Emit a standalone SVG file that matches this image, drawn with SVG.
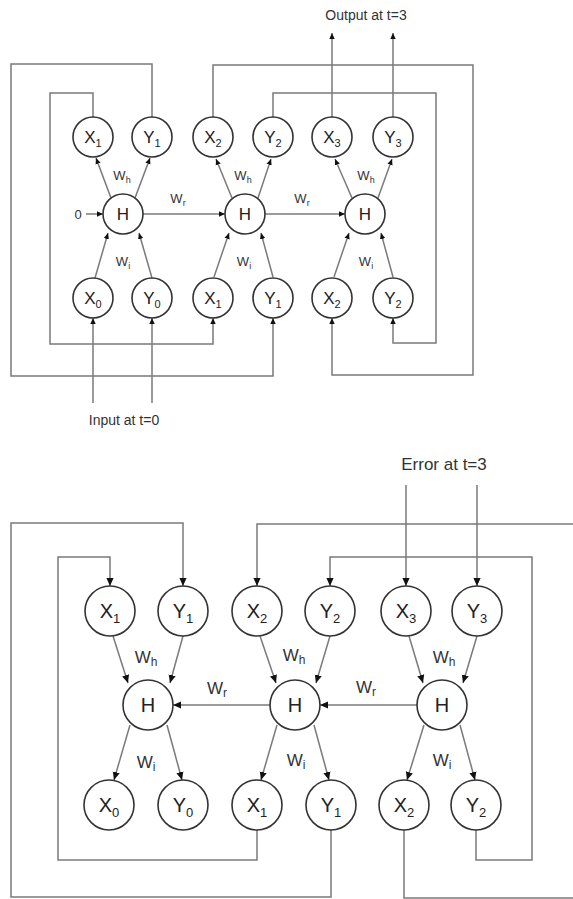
<svg xmlns="http://www.w3.org/2000/svg" width="573" height="899" viewBox="0 0 573 899">
<style>
.c1{fill:#fff;stroke:#333;stroke-width:1.6}
.ln{fill:none;stroke:#7a7a7a;stroke-width:1.5}
.ts{font-family:"Liberation Sans",Arial,sans-serif;font-size:17px;fill:#222;text-anchor:middle}
.tb{font-family:"Liberation Sans",Arial,sans-serif;font-size:20px;fill:#222;text-anchor:middle}
.ws{font-family:"Liberation Sans",Arial,sans-serif;font-size:13px;fill:#333;text-anchor:middle}
.wb{font-family:"Liberation Sans",Arial,sans-serif;font-size:17px;fill:#333;text-anchor:middle}
.cap{font-family:"Liberation Sans",Arial,sans-serif;font-size:14px;fill:#333;text-anchor:middle}
.sub1{font-size:11px}
.sub2{font-size:13px}
.s1{font-size:9px}
.s2{font-size:12px}
</style>
<defs>
<marker id="a1" viewBox="0 0 10 10" refX="10" refY="5" markerWidth="6" markerHeight="6" markerUnits="userSpaceOnUse" orient="auto"><path d="M0,0.5 L10,5 L0,9.5 z" fill="#111"/></marker>
<marker id="a2" viewBox="0 0 10 10" refX="10" refY="5" markerWidth="8" markerHeight="8" markerUnits="userSpaceOnUse" orient="auto"><path d="M0,0.5 L10,5 L0,9.5 z" fill="#111"/></marker>
</defs>

<g id="connectors">
<path class="ln" d="M152,117 V64 H11 V376 H273 V318" marker-end="url(#a1)"/>
<path class="ln" d="M93,117 V93 H50 V344 H213 V318" marker-end="url(#a1)"/>
<path class="ln" d="M213,117 V65 H473 V375 H332 V318" marker-end="url(#a1)"/>
<path class="ln" d="M273,117 V93 H436 V343 H393 V318" marker-end="url(#a1)"/>
<path class="ln" d="M332,117 V33" marker-end="url(#a1)"/>
<path class="ln" d="M393,117 V33" marker-end="url(#a1)"/>
<path class="ln" d="M93,403 V318" marker-end="url(#a1)"/>
<path class="ln" d="M152,403 V318" marker-end="url(#a1)"/>
<path class="ln" d="M86,214 H103" marker-end="url(#a1)"/>
<path class="ln" d="M143,214 H225" marker-end="url(#a1)"/>
<path class="ln" d="M265,214 H345" marker-end="url(#a1)"/>
<path class="ln" d="M111,198 L96,158" marker-end="url(#a1)"/>
<path class="ln" d="M135,198 L150,158" marker-end="url(#a1)"/>
<path class="ln" d="M232,198 L216,159" marker-end="url(#a1)"/>
<path class="ln" d="M258,198 L271,159" marker-end="url(#a1)"/>
<path class="ln" d="M352,198 L335,159" marker-end="url(#a1)"/>
<path class="ln" d="M378,198 L392,159" marker-end="url(#a1)"/>
<path class="ln" d="M95,278 L108,233" marker-end="url(#a1)"/>
<path class="ln" d="M152,278 L139,233" marker-end="url(#a1)"/>
<path class="ln" d="M214,277 L229,233" marker-end="url(#a1)"/>
<path class="ln" d="M273,277 L261,233" marker-end="url(#a1)"/>
<path class="ln" d="M334,277 L349,233" marker-end="url(#a1)"/>
<path class="ln" d="M393,277 L381,233" marker-end="url(#a1)"/>
<path class="ln" d="M257,830 V860 H58 V557 H110 V586" marker-end="url(#a2)"/>
<path class="ln" d="M331,830 V897 H11 V523 H183 V586" marker-end="url(#a2)"/>
<path class="ln" d="M404,830 V898 H580 V524 H257 V586" marker-end="url(#a2)"/>
<path class="ln" d="M476,830 V860 H532 V557 H330 V586" marker-end="url(#a2)"/>
<path class="ln" d="M406,485 V586" marker-end="url(#a2)"/>
<path class="ln" d="M477,485 V586" marker-end="url(#a2)"/>
<path class="ln" d="M270,705 H173" marker-end="url(#a2)"/>
<path class="ln" d="M417,705 H320" marker-end="url(#a2)"/>
<path class="ln" d="M113,636 L128,683" marker-end="url(#a2)"/>
<path class="ln" d="M183,636 L170,683" marker-end="url(#a2)"/>
<path class="ln" d="M260,636 L276,683" marker-end="url(#a2)"/>
<path class="ln" d="M330,636 L316,683" marker-end="url(#a2)"/>
<path class="ln" d="M409,636 L423,683" marker-end="url(#a2)"/>
<path class="ln" d="M477,636 L463,683" marker-end="url(#a2)"/>
<path class="ln" d="M130,725 L114,780" marker-end="url(#a2)"/>
<path class="ln" d="M167,725 L182,780" marker-end="url(#a2)"/>
<path class="ln" d="M277,725 L261,780" marker-end="url(#a2)"/>
<path class="ln" d="M314,725 L329,780" marker-end="url(#a2)"/>
<path class="ln" d="M424,725 L407,780" marker-end="url(#a2)"/>
<path class="ln" d="M460,725 L475,780" marker-end="url(#a2)"/>
</g>

<g id="labels">
<text class="cap" x="366" y="20">Output at t=3</text>
<text class="cap" x="124" y="425">Input at t=0</text>
<text class="cap" x="444" y="470" style="font-size:17px">Error at t=3</text>
<text class="ws" x="78" y="219">0</text>
<text class="ws" x="122" y="180">W<tspan class="s1" dy="3">h</tspan></text>
<text class="ws" x="243" y="180">W<tspan class="s1" dy="3">h</tspan></text>
<text class="ws" x="366" y="180">W<tspan class="s1" dy="3">h</tspan></text>
<text class="ws" x="178" y="203">W<tspan class="s1" dy="3">r</tspan></text>
<text class="ws" x="302" y="203">W<tspan class="s1" dy="3">r</tspan></text>
<text class="ws" x="123" y="266">W<tspan class="s1" dy="3">i</tspan></text>
<text class="ws" x="244" y="266">W<tspan class="s1" dy="3">i</tspan></text>
<text class="ws" x="366" y="266">W<tspan class="s1" dy="3">i</tspan></text>
<text class="wb" x="146" y="663">W<tspan class="s2" dy="3">h</tspan></text>
<text class="wb" x="294" y="661">W<tspan class="s2" dy="3">h</tspan></text>
<text class="wb" x="444" y="663">W<tspan class="s2" dy="3">h</tspan></text>
<text class="wb" x="217" y="694">W<tspan class="s2" dy="3">r</tspan></text>
<text class="wb" x="366" y="693">W<tspan class="s2" dy="3">r</tspan></text>
<text class="wb" x="146" y="768">W<tspan class="s2" dy="3">i</tspan></text>
<text class="wb" x="296" y="766">W<tspan class="s2" dy="3">i</tspan></text>
<text class="wb" x="442" y="766">W<tspan class="s2" dy="3">i</tspan></text>
</g>

<g id="t_x1"><circle class="c1" cx="93" cy="137" r="20"/><text class="ts" x="93" y="143">X<tspan class="sub1" dy="4">1</tspan></text></g>
<g id="t_y1"><circle class="c1" cx="152" cy="137" r="20"/><text class="ts" x="152" y="143">Y<tspan class="sub1" dy="4">1</tspan></text></g>
<g id="t_x2"><circle class="c1" cx="213" cy="137" r="20"/><text class="ts" x="213" y="143">X<tspan class="sub1" dy="4">2</tspan></text></g>
<g id="t_y2"><circle class="c1" cx="273" cy="137" r="20"/><text class="ts" x="273" y="143">Y<tspan class="sub1" dy="4">2</tspan></text></g>
<g id="t_x3"><circle class="c1" cx="332" cy="137" r="20"/><text class="ts" x="332" y="143">X<tspan class="sub1" dy="4">3</tspan></text></g>
<g id="t_y3"><circle class="c1" cx="393" cy="137" r="20"/><text class="ts" x="393" y="143">Y<tspan class="sub1" dy="4">3</tspan></text></g>
<g id="t_h1"><circle class="c1" cx="123" cy="214" r="20"/><text class="ts" x="123" y="220">H</text></g>
<g id="t_h2"><circle class="c1" cx="245" cy="214" r="20"/><text class="ts" x="245" y="220">H</text></g>
<g id="t_h3"><circle class="c1" cx="365" cy="214" r="20"/><text class="ts" x="365" y="220">H</text></g>
<g id="t_x0"><circle class="c1" cx="93" cy="298" r="20"/><text class="ts" x="93" y="304">X<tspan class="sub1" dy="4">0</tspan></text></g>
<g id="t_y0"><circle class="c1" cx="152" cy="298" r="20"/><text class="ts" x="152" y="304">Y<tspan class="sub1" dy="4">0</tspan></text></g>
<g id="t_x1b"><circle class="c1" cx="213" cy="298" r="20"/><text class="ts" x="213" y="304">X<tspan class="sub1" dy="4">1</tspan></text></g>
<g id="t_y1b"><circle class="c1" cx="273" cy="298" r="20"/><text class="ts" x="273" y="304">Y<tspan class="sub1" dy="4">1</tspan></text></g>
<g id="t_x2b"><circle class="c1" cx="332" cy="298" r="20"/><text class="ts" x="332" y="304">X<tspan class="sub1" dy="4">2</tspan></text></g>
<g id="t_y2b"><circle class="c1" cx="393" cy="298" r="20"/><text class="ts" x="393" y="304">Y<tspan class="sub1" dy="4">2</tspan></text></g>

<g id="b_x1"><circle class="c1" cx="110" cy="611" r="25"/><text class="tb" x="110" y="618">X<tspan class="sub2" dy="5">1</tspan></text></g>
<g id="b_y1"><circle class="c1" cx="183" cy="611" r="25"/><text class="tb" x="183" y="618">Y<tspan class="sub2" dy="5">1</tspan></text></g>
<g id="b_x2"><circle class="c1" cx="257" cy="611" r="25"/><text class="tb" x="257" y="618">X<tspan class="sub2" dy="5">2</tspan></text></g>
<g id="b_y2"><circle class="c1" cx="330" cy="611" r="25"/><text class="tb" x="330" y="618">Y<tspan class="sub2" dy="5">2</tspan></text></g>
<g id="b_x3"><circle class="c1" cx="406" cy="611" r="25"/><text class="tb" x="406" y="618">X<tspan class="sub2" dy="5">3</tspan></text></g>
<g id="b_y3"><circle class="c1" cx="477" cy="611" r="25"/><text class="tb" x="477" y="618">Y<tspan class="sub2" dy="5">3</tspan></text></g>
<g id="b_h1"><circle class="c1" cx="148" cy="705" r="25"/><text class="tb" x="148" y="712">H</text></g>
<g id="b_h2"><circle class="c1" cx="295" cy="705" r="25"/><text class="tb" x="295" y="712">H</text></g>
<g id="b_h3"><circle class="c1" cx="442" cy="705" r="25"/><text class="tb" x="442" y="712">H</text></g>
<g id="b_x0"><circle class="c1" cx="109" cy="805" r="25"/><text class="tb" x="109" y="812">X<tspan class="sub2" dy="5">0</tspan></text></g>
<g id="b_y0"><circle class="c1" cx="183" cy="805" r="25"/><text class="tb" x="183" y="812">Y<tspan class="sub2" dy="5">0</tspan></text></g>
<g id="b_x1b"><circle class="c1" cx="257" cy="805" r="25"/><text class="tb" x="257" y="812">X<tspan class="sub2" dy="5">1</tspan></text></g>
<g id="b_y1b"><circle class="c1" cx="331" cy="805" r="25"/><text class="tb" x="331" y="812">Y<tspan class="sub2" dy="5">1</tspan></text></g>
<g id="b_x2b"><circle class="c1" cx="404" cy="805" r="25"/><text class="tb" x="404" y="812">X<tspan class="sub2" dy="5">2</tspan></text></g>
<g id="b_y2b"><circle class="c1" cx="476" cy="805" r="25"/><text class="tb" x="476" y="812">Y<tspan class="sub2" dy="5">2</tspan></text></g>
</svg>
